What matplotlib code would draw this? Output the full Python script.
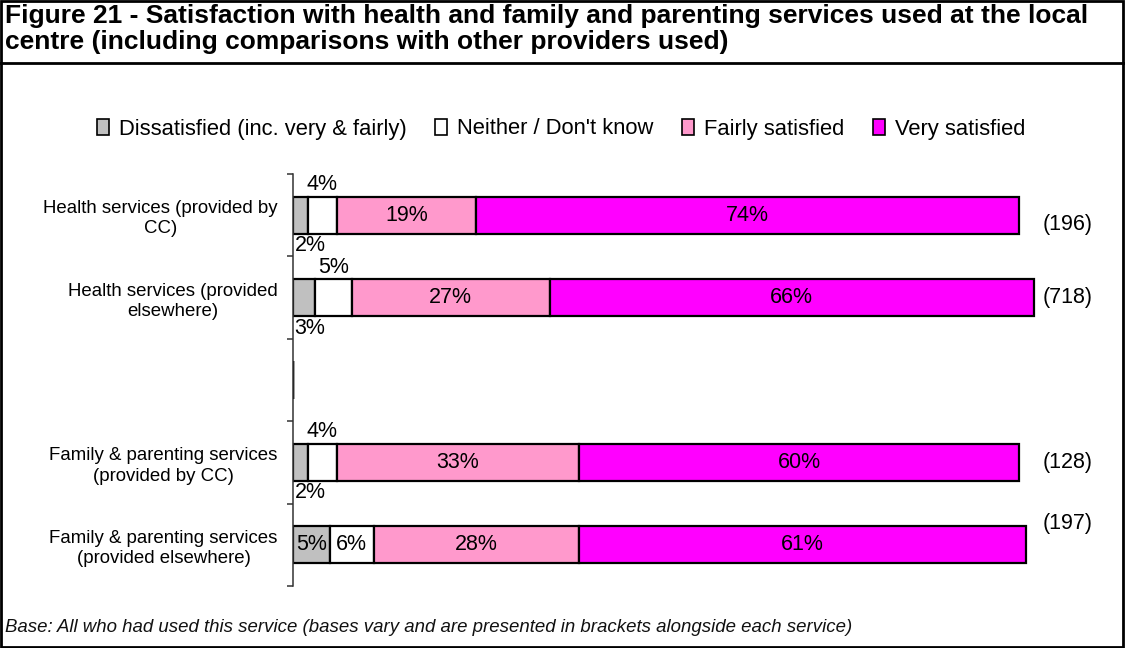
import matplotlib.pyplot as plt
from matplotlib.patches import Patch
from matplotlib.lines import Line2D

plt.rcParams['font.family'] = ['Liberation Sans', 'DejaVu Sans']

# services, one row each; the empty string is a spacer row
services = [
    'Health services (provided by\nCC)',
    'Health services (provided\nelsewhere)',
    '',
    'Family & parenting services\n(provided by CC)',
    'Family & parenting services\n(provided elsewhere)',
]
bases = ['(196)', '(718)', '', '(128)', '(197)']

dissatisfied = [2, 3, 0, 2, 5]
neither = [4, 5, 0, 4, 6]
fairly = [19, 27, 0, 33, 28]
very = [74, 66, 0, 60, 61]

series = [
    ('Dissatisfied (inc. very & fairly)', dissatisfied, '#C0C0C0'),
    ('Neither / Don\'t know', neither, '#FFFFFF'),
    ('Fairly satisfied', fairly, '#FF99CC'),
    ('Very satisfied', very, '#FF00FF'),
]
# smallest value that still gets its label inside the segment
inside_min = [5, 6, 0, 0]

W, H = 1125, 648
fig = plt.figure(figsize=(W / 100, H / 100), dpi=100)

# outer border and the rule under the heading
fig.add_artist(plt.Rectangle((0.001, 0.002), 0.997, 0.996, transform=fig.transFigure,
                             fill=False, lw=2, ec='black'))
fig.add_artist(Line2D([0, 1], [1 - 63 / H] * 2, transform=fig.transFigure, lw=2, color='black'))

fig.text(5 / W, 1 - 4 / H, 'Figure 21 - Satisfaction with health and family and parenting services used at the local\n'
         'centre (including comparisons with other providers used)',
         ha='left', va='top', fontsize=19, fontweight='bold', linespacing=1.1)

fig.text(5 / W, 1 - 627 / H, 'Base: All who had used this service (bases vary and are presented in brackets alongside each service)',
         ha='left', va='center', fontsize=13.4, style='italic', color='#111111')

ax = fig.add_axes([293 / W, 62 / H, (1063 - 293) / W, (586 - 174) / H])
ax.set_xlim(0, 105)
ax.set_ylim(len(services) - 0.5, -0.5)

ypos = list(range(len(services)))
bar_h = 0.45
left = [0] * len(services)
for name, vals, col in series:
    ax.barh(ypos, vals, left=left, height=bar_h, color=col, edgecolor='black', lw=1.6, label=name)
    left = [l + v for l, v in zip(left, vals)]

# percentage labels
for i in ypos:
    if not services[i]:
        continue
    starts = [0]
    for _, vals, _ in series:
        starts.append(starts[-1] + vals[i])
    for k, (_, vals, _) in enumerate(series):
        v = vals[i]
        mid = starts[k] + v / 2
        if v >= inside_min[k]:
            ax.text(mid, i, f'{v}%', ha='center', va='center', fontsize=15.5)
        elif k == 0:
            ax.annotate(f'{v}%', (0, i + bar_h / 2), xytext=(1, -1), textcoords='offset points',
                        ha='left', va='top', fontsize=15.5)
        else:
            ax.annotate(f'{v}%', (mid, i - bar_h / 2), xytext=(0, 1), textcoords='offset points',
                        ha='center', va='bottom', fontsize=15.5)

# bases in brackets to the right
base_shift = [-6.5, 0, 0, 0, 15]
for i, b in enumerate(bases):
    if b:
        ax.annotate(b, (1, i), xycoords=('axes fraction', 'data'), xytext=(-15, base_shift[i]),
                    textcoords='offset points', ha='left', va='center', fontsize=15.5)

# boundaries as ticks, service names at row centres
ax.set_yticks([y - 0.5 for y in range(len(services) + 1)])
ax.set_yticklabels([])
ax.set_yticks(ypos, minor=True)
ax.set_yticklabels(services, minor=True, fontsize=13.4, multialignment='center', linespacing=1.25)
ax.tick_params(axis='y', which='major', length=4, direction='out', width=1.1, color='#333333')
ax.tick_params(axis='y', which='minor', length=0, pad=11)
ax.set_xticks([])
for s in ['top', 'right', 'bottom']:
    ax.spines[s].set_visible(False)
ax.spines['left'].set_color('#333333')
ax.spines['left'].set_linewidth(1.1)

handles = [Patch(facecolor=c, edgecolor='black', lw=1.2) for _, _, c in series]
fig.legend(handles, [n for n, _, _ in series], loc='center', bbox_to_anchor=(561 / W, 1 - 129 / H),
           ncol=4, frameon=False, fontsize=15.8, handlelength=0.55, handleheight=0.7,
           handletextpad=0.45, columnspacing=1.3)

fig.savefig('out.png', dpi=100)
